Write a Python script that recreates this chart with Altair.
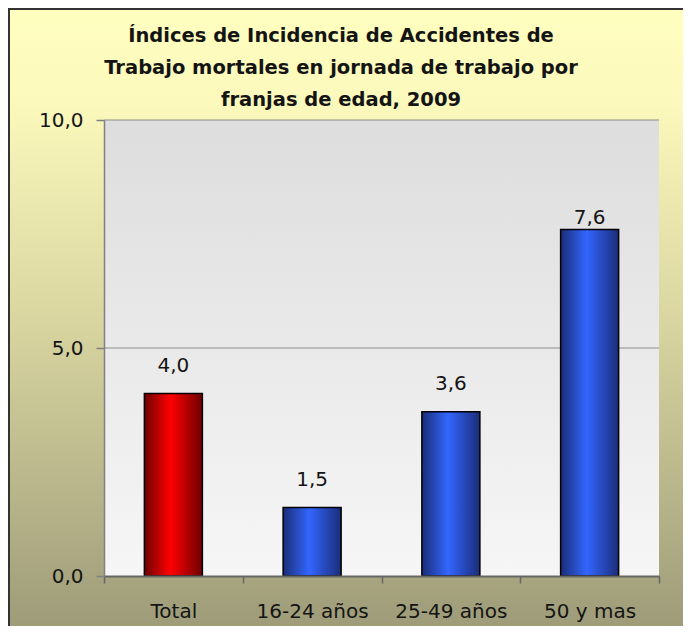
import altair as alt
import pandas as pd

# ---- data ----
categories = ["Total", "16-24 años", "25-49 años", "50 y mas"]
values = [4.0, 1.5, 3.6, 7.6]
groups = ["total", "edad", "edad", "edad"]
grid_values = [5.0, 10.0]
y_ticks = [0.0, 5.0, 10.0]
title_lines = [
    "Índices de Incidencia de Accidentes de",
    "Trabajo mortales en jornada de trabajo por",
    "franjas de edad, 2009",
]

# ---- layout / style ----
W, H = 555, 456
PAD = {"left": 96, "top": 112, "right": 24, "bottom": 50}
FONT = "DejaVu Sans"
TXT = "#141414"

df = pd.DataFrame({"cat": categories, "val": values, "grp": groups})
df_grid = pd.DataFrame({"g": grid_values})
one = pd.DataFrame({"k": [0]})

comma_expr = "replace(format(datum.value, '.1f'), '.', ',')"

x_scale = alt.Scale(paddingInner=0, paddingOuter=0)
y_scale = alt.Scale(domain=[0, 10], nice=False)

x_axis = alt.Axis(
    title=None, labelAngle=0, labelFont=FONT, labelFontSize=20, labelColor=TXT,
    tickBand="extent", tickSize=7, tickColor="#666666", tickWidth=1.5,
    domainColor="#666666", domainWidth=2, labelPadding=18, grid=False, zindex=1,
)
y_axis = alt.Axis(
    title=None, values=y_ticks, labelExpr=comma_expr, labelFont=FONT,
    labelFontSize=20, labelColor=TXT, tickSize=8, tickColor="#808080",
    tickWidth=1.5, domainColor="#808080", domainWidth=1.5, labelPadding=13,
    grid=False, zindex=1,
)

outer_grad = alt.Gradient(
    gradient="linear", x1=0, x2=0, y1=0, y2=1,
    stops=[
        alt.GradientStop(color="#ffffc0", offset=0),
        alt.GradientStop(color="#fbf9bb", offset=0.15),
        alt.GradientStop(color="#d9d6a1", offset=0.5),
        alt.GradientStop(color="#9e9c79", offset=1),
    ],
)
plot_grad = alt.Gradient(
    gradient="linear", x1=0, x2=0, y1=0, y2=1,
    stops=[
        alt.GradientStop(color="#dddddd", offset=0),
        alt.GradientStop(color="#f6f6f6", offset=1),
    ],
)
red_grad = alt.Gradient(
    gradient="linear", x1=0, x2=1, y1=0, y2=0,
    stops=[
        alt.GradientStop(color="#6e0000", offset=0),
        alt.GradientStop(color="#ff0000", offset=0.45),
        alt.GradientStop(color="#6e0000", offset=1),
    ],
)
blue_grad = alt.Gradient(
    gradient="linear", x1=0, x2=1, y1=0, y2=0,
    stops=[
        alt.GradientStop(color="#1a2d78", offset=0),
        alt.GradientStop(color="#3366ff", offset=0.45),
        alt.GradientStop(color="#1a2d78", offset=1),
    ],
)

L, T = -PAD["left"], -PAD["top"]
R, B = W + PAD["right"], H + PAD["bottom"]

outer_bg = alt.Chart(one).mark_rect(fill=outer_grad).encode(
    x=alt.value(L), x2=alt.value(R), y=alt.value(T), y2=alt.value(B),
)
border_left = alt.Chart(one).mark_rule(color="#333333", strokeWidth=2).encode(
    x=alt.value(L + 1), y=alt.value(T), y2=alt.value(B)
)
border_top = alt.Chart(one).mark_rule(color="#333333", strokeWidth=2).encode(
    y=alt.value(T + 1), x=alt.value(L), x2=alt.value(R)
)
plot_bg = alt.Chart(one).mark_rect(fill=plot_grad).encode(
    x=alt.value(0), x2=alt.value(W), y=alt.value(0), y2=alt.value(H)
)
grid = alt.Chart(df_grid).mark_rule(color="#8c8c8c", strokeWidth=1).encode(
    y=alt.Y("g:Q", scale=y_scale, axis=y_axis)
)
title_text = alt.Chart(one).mark_text(
    text=title_lines, font=FONT, fontSize=19.5, fontWeight="bold", color=TXT,
    lineHeight=32, align="center", baseline="top",
).encode(x=alt.value(341 - 104), y=alt.value(-93))

base = alt.Chart(df).encode(
    x=alt.X("cat:N", sort=categories, scale=x_scale, axis=x_axis),
    y=alt.Y("val:Q", scale=y_scale, axis=y_axis),
)
bar_w = alt.RelativeBandSize(0.418)
bars_red = base.transform_filter("datum.grp == 'total'").mark_bar(
    fill=red_grad, stroke="#000000", strokeWidth=1.5, width=bar_w
)
bars_blue = base.transform_filter("datum.grp == 'edad'").mark_bar(
    fill=blue_grad, stroke="#000000", strokeWidth=1.5, width=bar_w
)
# label sits ~22px above its bar; the tallest one is tucked close to its bar
labels = base.transform_calculate(
    lab="replace(format(datum.val, '.1f'), '.', ',')",
    ly="datum.val > 7 ? datum.val + 0.13 : datum.val + 0.48",
).mark_text(
    font=FONT, fontSize=20, color=TXT, baseline="alphabetic"
).encode(y=alt.Y("ly:Q", scale=y_scale, axis=y_axis), text="lab:N")

chart = alt.layer(
    outer_bg, border_left, border_top, plot_bg, grid,
    bars_red, bars_blue, labels, title_text
).properties(
    width=W, height=H,
    autosize=alt.AutoSizeParams(type="none"),
    padding=PAD,
).configure_view(stroke=None)

chart.save("out.html", embed_options={"renderer": "svg", "actions": False})
